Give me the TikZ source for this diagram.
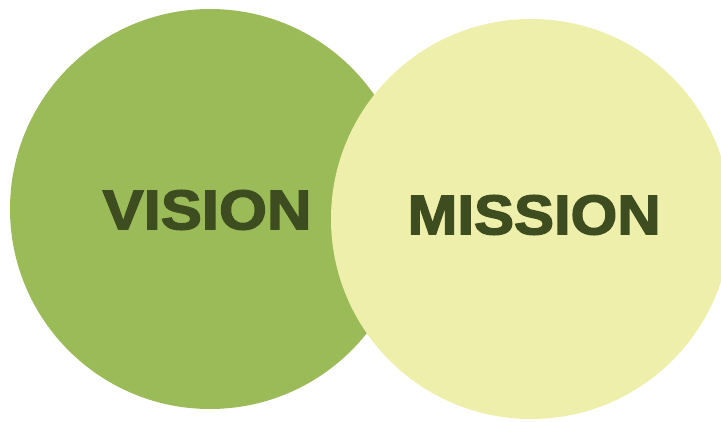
\documentclass[tikz,border=0pt]{standalone}
\usepackage{fontspec}
\setmainfont{Liberation Sans}
\newfontfamily\heavyfont[FakeBold=2.5]{Liberation Sans Bold}
\definecolor{cgreen}{HTML}{9BBB59}
\definecolor{cpale}{HTML}{EEEFAA}
\definecolor{ctext}{HTML}{3D4D1F}
\begin{document}
\begin{tikzpicture}[x=1pt,y=-1pt,
  circ/.style={circle,minimum size=400pt,inner sep=0pt},
  lbl/.style={text=ctext,font=\heavyfont\fontsize{56}{60}\selectfont,inner sep=0pt}]
\useasboundingbox (0,0) rectangle (721,421);
\begin{scope}
\clip (0,0) rectangle (721,421);
\node[circ,fill=cgreen] (v) at (210,209) {};
\node[circ,fill=cpale] (m) at (531,219) {};
\end{scope}
\node[lbl,xscale=1.10] (vt) at (207,210) {VISION};
\node[lbl,xscale=1.07] (mt) at (534,215) {MISSION};
\end{tikzpicture}
\end{document}
